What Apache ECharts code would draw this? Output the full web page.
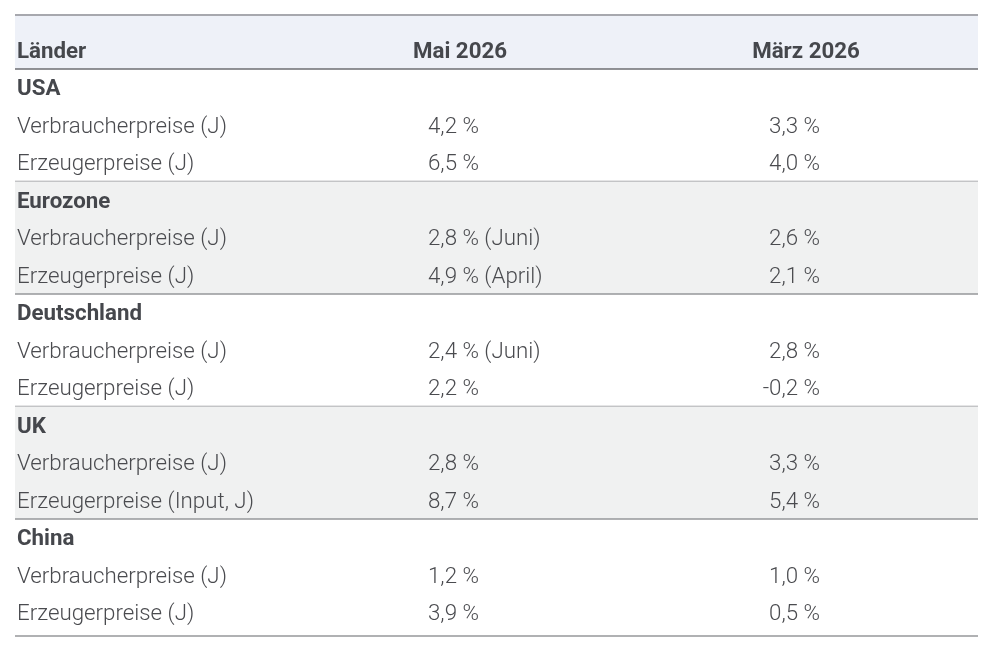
<!DOCTYPE html>
<html>
<head>
<meta charset="utf-8">
<script src="https://cdn.jsdelivr.net/npm/echarts@6.0.0/dist/echarts.min.js"></script>
<style>
    html, body { margin: 0; padding: 0; background: #ffffff; }
    #chart { width: 997px; height: 656px; }
</style>
</head>
<body>
<div id="chart"></div>
<script>
// table content
const headers = ["Länder", "Mai 2026", "März 2026"];
const groups = ["USA", "Eurozone", "Deutschland", "UK", "China"];
const indicators = [
    "Verbraucherpreise (J)", "Erzeugerpreise (J)",
    "Verbraucherpreise (J)", "Erzeugerpreise (J)",
    "Verbraucherpreise (J)", "Erzeugerpreise (J)",
    "Verbraucherpreise (J)", "Erzeugerpreise (Input, J)",
    "Verbraucherpreise (J)", "Erzeugerpreise (J)",
];
const maiValues = [4.2, 6.5, 2.8, 4.9, 2.4, 2.2, 2.8, 8.7, 1.2, 3.9];
const maiNotes = ["", "", "Juni", "April", "Juni", "", "", "", "", ""];
const maerzValues = [3.3, 4.0, 2.6, 2.1, 2.8, -0.2, 3.3, 5.4, 1.0, 0.5];

// layout (in grid units: x in px, y in row heights)
const ROW_H = 37.5;
const HEADER_ROWS = 54 / ROW_H;
const TAIL_ROWS = 0.12;
const ROWS_PER_GROUP = 3;
const TOTAL_ROWS = HEADER_ROWS + groups.length * ROWS_PER_GROUP + TAIL_ROWS;

const FONT = "Roboto, 'Noto Sans', Arial, sans-serif";
const TEXT_COLOR = "#4a4b4f";
const BOLD_COLOR = "#45474c";

const fmt = (v) => v.toFixed(1).replace(".", ",") + " %";

// flatten into table rows
const rows = [];
groups.forEach((g, gi) => {
    rows.push({ label: g, bold: true, mai: "", maerz: "" });
    for (let k = 0; k < 2; k++) {
        const i = gi * 2 + k;
        rows.push({
            label: indicators[i],
            bold: false,
            mai: fmt(maiValues[i]) + (maiNotes[i] ? " (" + maiNotes[i] + ")" : ""),
            maerz: fmt(maerzValues[i]),
        });
    }
});

const chart = echarts.init(document.getElementById("chart"));

function textEl(x, y, text, align, bold) {
    return {
        type: "text",
        x: x,
        y: y,
        style: {
            text: text,
            align: align,
            verticalAlign: "middle",
            fill: bold ? BOLD_COLOR : TEXT_COLOR,
            font: (bold ? "bold " : "300 ") + "22.3px " + FONT,
        },
    };
}

chart.setOption({
    animation: false,
    grid: { left: 15, right: 19, top: 15, bottom: 20 },
    xAxis: { type: "value", min: 0, max: 963, show: false },
    yAxis: { type: "value", min: 0, max: TOTAL_ROWS, inverse: true, show: false },
    series: [
        {
            // group bands and separators
            type: "custom",
            silent: true,
            data: groups.map((g, gi) => [gi]),
            renderItem: (params, api) => {
                const gi = api.value(0);
                const y0 = HEADER_ROWS + gi * ROWS_PER_GROUP;
                const y1 = gi === groups.length - 1 ? TOTAL_ROWS : y0 + ROWS_PER_GROUP;
                const p0 = api.coord([0, y0]);
                const p1 = api.coord([963, y1]);
                const children = [];
                if (gi % 2 === 1) {
                    children.push({
                        type: "rect",
                        shape: { x: p0[0], y: p0[1], width: p1[0] - p0[0], height: p1[1] - p0[1] },
                        style: { fill: "#f0f1f1" },
                    });
                }
                children.push({
                    type: "line",
                    shape: { x1: p0[0], y1: p1[1], x2: p1[0], y2: p1[1] },
                    style: { stroke: "#96979a", lineWidth: 1.5 },
                });
                return { type: "group", children: children };
            },
        },
        {
            // header
            type: "custom",
            silent: true,
            data: [[0]],
            renderItem: (params, api) => {
                const p0 = api.coord([0, 0]);
                const p1 = api.coord([963, HEADER_ROWS]);
                const ty = api.coord([0, 1.0])[1];
                return {
                    type: "group",
                    children: [
                        {
                            type: "rect",
                            shape: { x: p0[0], y: p0[1], width: p1[0] - p0[0], height: p1[1] - p0[1] },
                            style: { fill: "#eef1f8" },
                        },
                        {
                            type: "line",
                            shape: { x1: p0[0], y1: p0[1], x2: p1[0], y2: p0[1] },
                            style: { stroke: "#a7a8ae", lineWidth: 2 },
                        },
                        {
                            type: "line",
                            shape: { x1: p0[0], y1: p1[1], x2: p1[0], y2: p1[1] },
                            style: { stroke: "#6c6e73", lineWidth: 1.5 },
                        },
                        textEl(api.coord([2, 0])[0], ty, headers[0], "left", true),
                        textEl(api.coord([445, 0])[0], ty, headers[1], "center", true),
                        textEl(api.coord([791, 0])[0], ty, headers[2], "center", true),
                    ],
                };
            },
        },
        {
            // body rows
            type: "custom",
            silent: true,
            data: rows.map((r, i) => [i]),
            renderItem: (params, api) => {
                const r = rows[params.dataIndex];
                const y = api.coord([0, HEADER_ROWS + api.value(0) + 0.55])[1];
                const children = [textEl(api.coord([2, 0])[0], y, r.label, "left", r.bold)];
                if (r.mai) children.push(textEl(api.coord([413, 0])[0], y, r.mai, "left", false));
                if (r.maerz) children.push(textEl(api.coord([805, 0])[0], y, r.maerz, "right", false));
                return { type: "group", children: children };
            },
        },
    ],
});

window.addEventListener("resize", () => chart.resize());
</script>
</body>
</html>
